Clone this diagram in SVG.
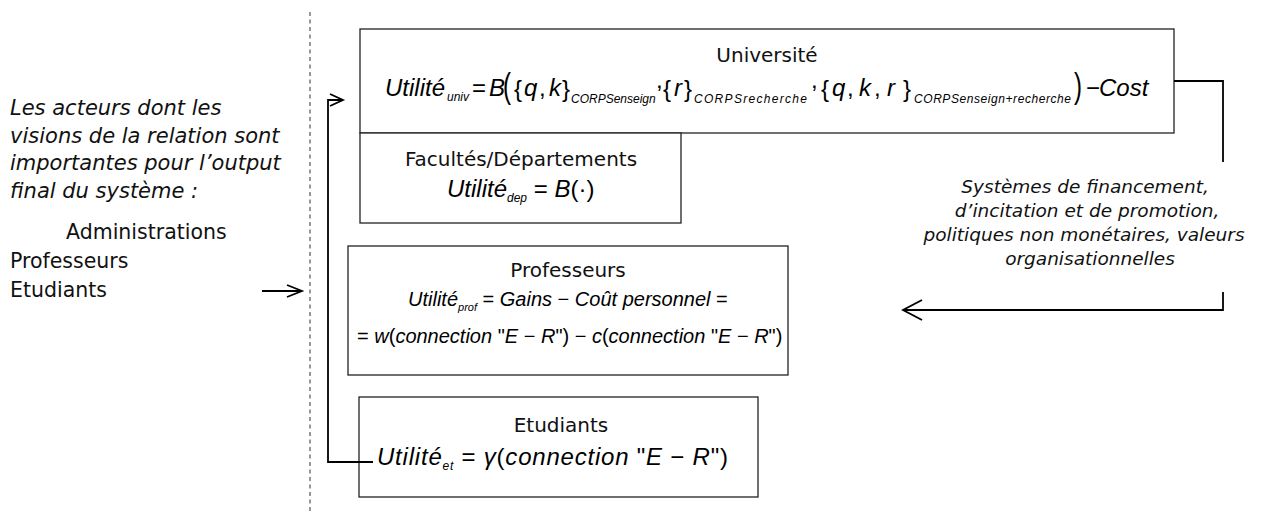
<svg xmlns="http://www.w3.org/2000/svg" width="1268" height="515" viewBox="0 0 1268 515">
<style>
.t{font-family:"DejaVu Sans","Liberation Sans",sans-serif;fill:#111}
.ti{font-family:"DejaVu Sans","Liberation Sans",sans-serif;font-style:italic;fill:#111}
.m{font-family:"Liberation Sans",Arial,sans-serif;fill:#000}
.i{font-style:italic}
.sub{font-family:"Liberation Sans",Arial,sans-serif;font-style:italic}
.box{fill:#fff;stroke:#222;stroke-width:1.3}
.c{fill:none;stroke:#000;stroke-width:1.8}
</style>
<line x1="310" y1="12" x2="310" y2="512" stroke="#333" stroke-width="1" stroke-dasharray="4,3.5"/>
<g id="left-text">
<text class="ti" font-size="21">
<tspan x="10" y="115">Les acteurs dont les</tspan>
<tspan x="10" y="143">visions de la relation sont</tspan>
<tspan x="10" y="170">importantes pour l’output</tspan>
<tspan x="10" y="198">final du système :</tspan>
</text>
<text class="t" font-size="20.5">
<tspan x="66" y="239">Administrations</tspan>
<tspan x="10" y="268">Professeurs</tspan>
<tspan x="10" y="297">Etudiants</tspan>
</text>
</g>
<g id="universite">
<rect class="box" x="360" y="29" width="814" height="104"/>
<text class="t" font-size="20" x="767" y="62" text-anchor="middle">Université</text>
<text class="m" font-size="24" y="96">
<tspan x="385" class="i">Utilité</tspan><tspan x="447" y="101" class="sub" font-size="12">univ</tspan><tspan x="472" y="96">=</tspan><tspan x="489" class="i">B</tspan>
<tspan x="514" y="97">{</tspan><tspan x="524" y="96" class="i">q</tspan><tspan x="539">,</tspan><tspan x="549" class="i">k</tspan><tspan x="562" y="97">}</tspan><tspan x="571" y="103" class="sub" font-size="12">CORPSenseign</tspan>
<tspan x="656" y="88">,</tspan><tspan x="663" y="97">{</tspan><tspan x="674" y="96" class="i">r</tspan><tspan x="684" y="97">}</tspan><tspan x="694" y="103" class="sub" font-size="12" textLength="113" lengthAdjust="spacing">CORPSrecherche</tspan>
<tspan x="811" y="88">,</tspan><tspan x="821" y="97">{</tspan><tspan x="832" y="96" class="i">q</tspan><tspan x="847">,</tspan><tspan x="859" class="i">k</tspan><tspan x="874">,</tspan><tspan x="887" class="i">r</tspan><tspan x="903" y="97">}</tspan><tspan x="914" y="103" class="sub" font-size="12" textLength="157" lengthAdjust="spacing">CORPSenseign+recherche</tspan>
<tspan x="1086" y="96">−</tspan><tspan x="1099" y="96" class="i">Cost</tspan>
</text>
<text class="m" font-size="24" transform="translate(503,98) scale(1,1.45)">(</text>
<text class="m" font-size="24" transform="translate(1074,98) scale(1,1.45)">)</text>
</g>
<g id="facultes">
<rect class="box" x="360" y="133" width="321" height="90"/>
<text class="t" font-size="20" x="521" y="166" text-anchor="middle">Facultés/Départements</text>
<text class="m" font-size="24" y="197"><tspan x="447" class="i">Utilité</tspan><tspan class="sub" font-size="12" dy="5">dep</tspan><tspan dy="-5"> = </tspan><tspan class="i">B</tspan><tspan>(·)</tspan></text>
</g>
<g id="professeurs">
<rect class="box" x="348" y="246" width="440" height="129"/>
<text class="t" font-size="20" x="568" y="277" text-anchor="middle">Professeurs</text>
<text class="m" font-size="20" y="306"><tspan x="408" class="i">Utilité</tspan><tspan class="sub" font-size="11" dy="5">prof</tspan><tspan dy="-5"> = </tspan><tspan class="i">Gains</tspan><tspan> − </tspan><tspan class="i">Coût personnel</tspan><tspan> =</tspan></text>
<text class="m" font-size="20" y="343"><tspan x="357">= </tspan><tspan class="i">w</tspan><tspan>(</tspan><tspan class="i">connection </tspan><tspan>"</tspan><tspan class="i">E</tspan><tspan> − </tspan><tspan class="i">R</tspan><tspan>") − </tspan><tspan class="i">c</tspan><tspan>(</tspan><tspan class="i">connection </tspan><tspan>"</tspan><tspan class="i">E</tspan><tspan> − </tspan><tspan class="i">R</tspan><tspan>")</tspan></text>
</g>
<g id="etudiants">
<rect class="box" x="359" y="397" width="399" height="100"/>
<text class="t" font-size="20" x="561" y="432" text-anchor="middle">Etudiants</text>
<text class="m" font-size="24" y="465" textLength="351" lengthAdjust="spacing"><tspan x="377" class="i">Utilité</tspan><tspan class="sub" font-size="12" dy="5">et</tspan><tspan dy="-5"> = </tspan><tspan class="i">γ</tspan><tspan>(</tspan><tspan class="i">connection </tspan><tspan>"</tspan><tspan class="i">E</tspan><tspan> − </tspan><tspan class="i">R</tspan><tspan>")</tspan></text>
</g>
<g id="label-financement">
<text class="ti" font-size="18.5" text-anchor="middle">
<tspan x="1088" y="193">Systèmes de financement,</tspan>
<tspan x="1090" y="217">d’incitation et de promotion,</tspan>
<tspan x="1087" y="241">politiques non monétaires, valeurs</tspan>
<tspan x="1090" y="265">organisationnelles</tspan>
</text>
</g>
<g id="connectors">
<path class="c" d="M262,291 H302 M287,285 L302,291 L287,297"/>
<path class="c" d="M373,462 H328 V100 H343 M330,94 L343,100 L330,106"/>
<path class="c" d="M1174,81 H1223 V162"/>
<path class="c" d="M1223,292 V310 H903 M922,300 L903,310 L922,320"/>
</g>
</svg>
